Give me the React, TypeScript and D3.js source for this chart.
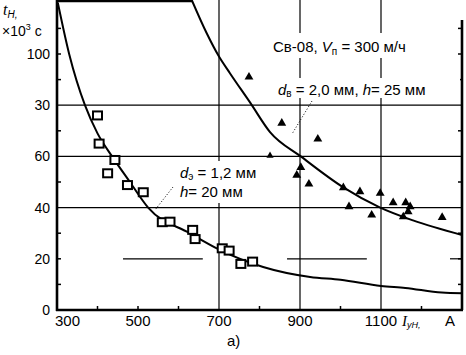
import * as d3 from "d3";

const W = 466;
const H = 355;
const FONT = "'Liberation Sans', Arial, sans-serif";

// fitted curve, d_э = 1,2 мм, h = 20 мм
const thinI = [302, 330, 369, 400, 436, 480, 525, 628, 702, 809, 925, 1000, 1100, 1160, 1250, 1300];
const thinT = [120, 100, 80, 69, 60, 50, 40, 30, 23.5, 16.8, 12.9, 11.8, 9.4, 8.6, 6.8, 6.5];

// fitted curve, d_в = 2,0 мм, h = 25 мм
const thickI = [633, 670, 700, 727, 777, 826, 902, 1006, 1098, 1179, 1300];
const thickT = [121, 108, 99, 92.5, 81, 69.5, 60, 48, 40, 35, 29.3];

// measured points (squares)
const sqI = [400, 404, 443, 425, 474, 513, 560, 579, 635, 641, 708, 725, 754, 783];
const sqT = [76, 65, 58.6, 53.4, 48.8, 46, 34.3, 34.5, 31.3, 27.7, 24.1, 23.2, 18, 18.9];

// measured points (triangles)
const trI = [774, 855, 944, 826, 902, 892, 922, 1007, 1048, 1098, 1021, 1077, 1130, 1161, 1172, 1167, 1155, 1251];
const trT = [91, 73, 66.8, 60.3, 55.7, 52.7, 49.2, 47.8, 46.2, 45.6, 40.4, 37.1, 41.9, 41.9, 40.4, 38.4, 36.4, 36.2];
const trSmall = [826];

const xTicks = [300, 500, 700, 900, 1100];
const xTickLabels = ["300", "500", "700", "900", "1100"];
const xMinor = [400, 500, 600, 800, 1000, 1200];
const yTicks = [0, 20, 40, 60, 80, 100];
const yTickLabels = ["0", "20", "40", "60", "30", "100"];
const yMinor = [10, 20, 30, 50, 70, 90, 100, 110];
const hGrid = [40, 60, 80];
const vGrid = [700, 900, 1100];
const grid20 = [[463, 660], [868, 1065]];

const x = d3.scaleLinear().domain([300, 1300]).range([57, 462]);
const y = d3.scaleLinear().domain([0, 120]).range([310, 2.8]);

const line = d3
  .line<[number, number]>()
  .x((d) => x(d[0]))
  .y((d) => y(d[1]))
  .curve(d3.curveMonotoneX);

const tri = d3.symbol().type(d3.symbolTriangle);

function Label({ bx, by, bw, bh, children }: any) {
  return (
    <g>
      <rect x={bx} y={by} width={bw} height={bh} fill="#fff" />
      {children}
    </g>
  );
}

export default function App() {
  const x0 = x(300), x1 = x(1300), y0 = y(0);
  return (
    <svg
      width={W}
      height={H}
      style={{ position: "absolute", left: 0, top: 0, background: "#fff" }}
      fontFamily={FONT}
    >
      <defs>
        <clipPath id="plot">
          <rect x={x0} y={0} width={x1 - x0} height={y0} />
        </clipPath>
      </defs>

      {/* grid */}
      {hGrid.map((v) => (
        <line key={"h" + v} x1={x0} x2={x1} y1={y(v)} y2={y(v)} stroke="#000" strokeWidth={1.2} />
      ))}
      {vGrid.map((v) => (
        <line key={"v" + v} x1={x(v)} x2={x(v)} y1={0} y2={y0} stroke="#000" strokeWidth={1.2} />
      ))}
      {grid20.map((s, i) => (
        <line key={"g" + i} x1={x(s[0])} x2={x(s[1])} y1={y(20)} y2={y(20)} stroke="#000" strokeWidth={1.2} />
      ))}

      {/* ticks */}
      {xMinor.map((v) => (
        <line key={"xm" + v} x1={x(v)} x2={x(v)} y1={y0} y2={y0 - 4} stroke="#000" strokeWidth={1.5} />
      ))}
      {yMinor.map((v) => (
        <line key={"ym" + v} x1={x0} x2={x0 + 4} y1={y(v)} y2={y(v)} stroke="#000" strokeWidth={1.5} />
      ))}
      {yMinor.map((v) => (
        <line key={"yr" + v} x1={x1} x2={x1 - 4} y1={y(v)} y2={y(v)} stroke="#000" strokeWidth={1.5} />
      ))}
      <line x1={x1} x2={x1 - 12} y1={y(20)} y2={y(20)} stroke="#000" strokeWidth={1.2} />

      {/* curves */}
      <g clipPath="url(#plot)" fill="none" stroke="#000" strokeWidth={2}>
        <path d={line(thinI.map((v, i) => [v, thinT[i]]) as any) || ""} />
        <path d={line(thickI.map((v, i) => [v, thickT[i]]) as any) || ""} />
      </g>

      {/* points */}
      {sqI.map((v, i) => (
        <rect
          key={"s" + i}
          x={x(v) - 4.5}
          y={y(sqT[i]) - 4}
          width={9}
          height={8}
          fill="#fff"
          stroke="#000"
          strokeWidth={2}
        />
      ))}
      {trI.map((v, i) => (
        <path
          key={"t" + i}
          transform={`translate(${x(v)},${y(trT[i])})`}
          d={tri.size(trSmall.includes(v) ? 22 : 34)() || ""}
          fill="#000"
        />
      ))}

      {/* leaders */}
      <line x1={173} y1={187} x2={155} y2={210} stroke="#000" strokeWidth={1} strokeDasharray="1,2" />
      <line x1={312} y1={101} x2={292} y2={134} stroke="#000" strokeWidth={1} strokeDasharray="1,2" />

      {/* axes frame */}
      <line x1={x0} x2={x0} y1={0} y2={y0 + 1} stroke="#000" strokeWidth={2.6} />
      <line x1={x0 - 1} x2={x1 + 1} y1={y0} y2={y0} stroke="#000" strokeWidth={2.6} />
      <line x1={x1} x2={x1} y1={20} y2={y0} stroke="#000" strokeWidth={2.6} />
      <line x1={x0} x2={x(635)} y1={1} y2={1} stroke="#000" strokeWidth={2.6} />

      {/* tick labels */}
      {yTicks.map((v, i) => (
        <text key={"yl" + v} x={50} y={y(v) + 5} textAnchor="end" fontSize={14}>
          {yTickLabels[i]}
        </text>
      ))}
      {xTicks.map((v, i) => (
        <text
          key={"xl" + v}
          x={i === 0 ? x(v) - 2 : x(v)}
          y={326}
          textAnchor={i === 0 ? "start" : "middle"}
          fontSize={15}
        >
          {xTickLabels[i]}
        </text>
      ))}

      {/* axis titles */}
      <text x={3} y={15} fontSize={16} fontStyle="italic" fontFamily="'Liberation Serif', serif">
        t<tspan fontSize={10} dy={3} fontFamily={FONT}>Н,</tspan>
      </text>
      <text x={2} y={36} fontSize={14}>
        ×10<tspan fontSize={9} dy={-6}>3</tspan>
        <tspan dy={6}> с</tspan>
      </text>
      <text x={402} y={326} fontSize={15} fontStyle="italic" fontFamily="'Liberation Serif', serif">
        I<tspan fontSize={9} dy={2} fontFamily={FONT}>уН,</tspan>
      </text>
      <text x={445} y={326} fontSize={15}>A</text>
      <text x={227} y={346} fontSize={15}>а)</text>

      {/* annotations */}
      <Label bx={268} by={33} bw={166} bh={25}>
        <text x={273} y={52} fontSize={15}>
          Св-08, <tspan fontStyle="italic">V</tspan>
          <tspan fontSize={10} dy={3}>п</tspan>
          <tspan dy={-3}> = 300 м/ч</tspan>
        </text>
      </Label>
      <Label bx={274} by={78} bw={186} bh={20}>
        <text x={278} y={95} fontSize={15}>
          <tspan fontStyle="italic">d</tspan>
          <tspan fontSize={10} dy={2}>в</tspan>
          <tspan dy={-2}> = 2,0 мм, </tspan>
          <tspan fontStyle="italic">h</tspan>= 25 мм
        </text>
      </Label>
      <Label bx={177} by={161} bw={92} bh={42}>
        <text x={180} y={178} fontSize={15}>
          <tspan fontStyle="italic">d</tspan>
          <tspan fontSize={10} dy={2}>э</tspan>
          <tspan dy={-2}> = 1,2 мм</tspan>
        </text>
        <text x={180} y={197} fontSize={15}>
          <tspan fontStyle="italic">h</tspan>= 20 мм
        </text>
      </Label>
    </svg>
  );
}
